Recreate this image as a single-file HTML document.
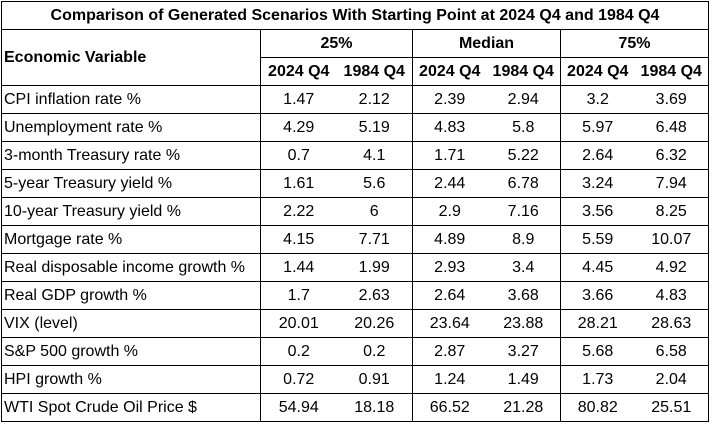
<!DOCTYPE html>
<html><head><style>
body{margin:0;background:#fff;}
table{position:absolute;left:1px;top:1px;border-collapse:collapse;font-family:"Liberation Sans",sans-serif;font-size:16px;color:#000;table-layout:fixed;}
td{border:1px solid #000;height:27px;padding:0;text-align:center;white-space:nowrap;overflow:hidden;}
td.l{text-align:left;padding-left:2px;}
.b{font-weight:bold;}
td.nl{border-left:none;}
td.nr{border-right:none;}
</style></head><body>
<table>
<colgroup><col style="width:259px"><col style="width:76px"><col style="width:76px"><col style="width:74px"><col style="width:74px"><col style="width:74px"><col style="width:74px"></colgroup>
<tr><td colspan="7" class="b">Comparison of Generated Scenarios With Starting Point at 2024 Q4 and 1984 Q4</td></tr>
<tr><td rowspan="2" class="l b">Economic Variable</td><td colspan="2" class="b">25%</td><td colspan="2" class="b">Median</td><td colspan="2" class="b">75%</td></tr>
<tr class="b"><td class="nr b">2024 Q4</td><td class="nl b">1984 Q4</td><td class="nr b">2024 Q4</td><td class="nl b">1984 Q4</td><td class="nr b">2024 Q4</td><td class="nl b">1984 Q4</td></tr>
<tr><td class="l">CPI inflation rate %</td><td class="nr">1.47</td><td class="nl">2.12</td><td class="nr">2.39</td><td class="nl">2.94</td><td class="nr">3.2</td><td class="nl">3.69</td></tr>
<tr><td class="l">Unemployment rate %</td><td class="nr">4.29</td><td class="nl">5.19</td><td class="nr">4.83</td><td class="nl">5.8</td><td class="nr">5.97</td><td class="nl">6.48</td></tr>
<tr><td class="l">3-month Treasury rate %</td><td class="nr">0.7</td><td class="nl">4.1</td><td class="nr">1.71</td><td class="nl">5.22</td><td class="nr">2.64</td><td class="nl">6.32</td></tr>
<tr><td class="l">5-year Treasury yield %</td><td class="nr">1.61</td><td class="nl">5.6</td><td class="nr">2.44</td><td class="nl">6.78</td><td class="nr">3.24</td><td class="nl">7.94</td></tr>
<tr><td class="l">10-year Treasury yield %</td><td class="nr">2.22</td><td class="nl">6</td><td class="nr">2.9</td><td class="nl">7.16</td><td class="nr">3.56</td><td class="nl">8.25</td></tr>
<tr><td class="l">Mortgage rate %</td><td class="nr">4.15</td><td class="nl">7.71</td><td class="nr">4.89</td><td class="nl">8.9</td><td class="nr">5.59</td><td class="nl">10.07</td></tr>
<tr><td class="l">Real disposable income growth %</td><td class="nr">1.44</td><td class="nl">1.99</td><td class="nr">2.93</td><td class="nl">3.4</td><td class="nr">4.45</td><td class="nl">4.92</td></tr>
<tr><td class="l">Real GDP growth %</td><td class="nr">1.7</td><td class="nl">2.63</td><td class="nr">2.64</td><td class="nl">3.68</td><td class="nr">3.66</td><td class="nl">4.83</td></tr>
<tr><td class="l">VIX (level)</td><td class="nr">20.01</td><td class="nl">20.26</td><td class="nr">23.64</td><td class="nl">23.88</td><td class="nr">28.21</td><td class="nl">28.63</td></tr>
<tr><td class="l">S&amp;P 500 growth %</td><td class="nr">0.2</td><td class="nl">0.2</td><td class="nr">2.87</td><td class="nl">3.27</td><td class="nr">5.68</td><td class="nl">6.58</td></tr>
<tr><td class="l">HPI growth %</td><td class="nr">0.72</td><td class="nl">0.91</td><td class="nr">1.24</td><td class="nl">1.49</td><td class="nr">1.73</td><td class="nl">2.04</td></tr>
<tr><td class="l">WTI Spot Crude Oil Price $</td><td class="nr">54.94</td><td class="nl">18.18</td><td class="nr">66.52</td><td class="nl">21.28</td><td class="nr">80.82</td><td class="nl">25.51</td></tr>
</table>
</body></html>
